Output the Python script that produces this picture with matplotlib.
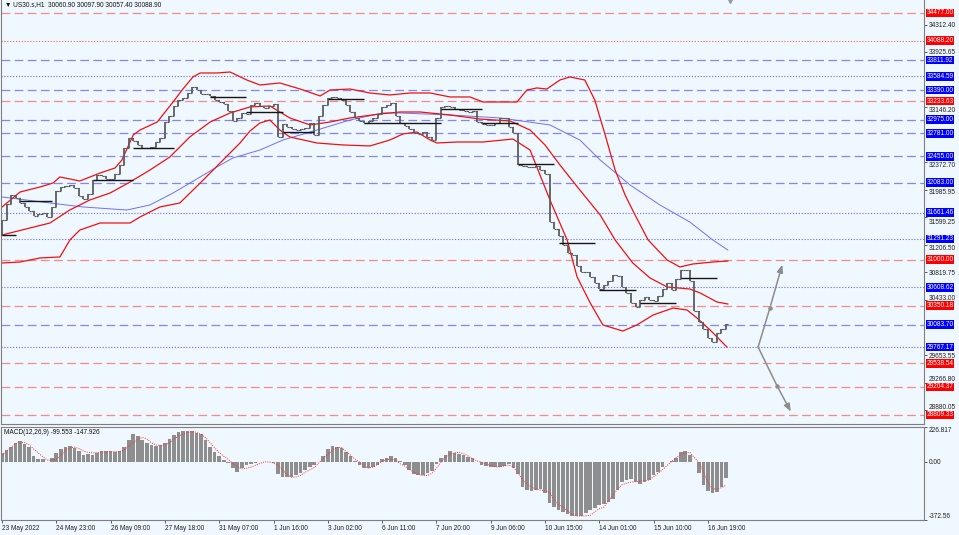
import matplotlib
matplotlib.use('Agg')
import matplotlib.pyplot as plt
import matplotlib.transforms as mtransforms
import numpy as np

# ---------------- data ----------------
symbol_header = "US30.s,H1  30060.90 30097.90 30057.40 30088.90"
macd_header = "MACD(12,26,9) -99.553 -147.926"

first_open = 31350
closes = [
    31558, 31790, 31905, 31870, 31795, 31745, 31685, 31620, 31645, 31650,
    31605, 31735, 31970, 32025, 32035, 32055, 32005, 31890, 31850, 31930,
    32120, 32190, 32185, 32140, 32135, 32210, 32330, 32580, 32720, 32670,
    32610, 32573, 32580, 32586, 32660, 32715, 32935, 33020, 33170, 33250,
    33280, 33350, 33435, 33395, 33330, 33330, 33300, 33250, 33215, 33190,
    33090, 32950, 32990, 33070, 33050, 33175, 33205, 33165, 33143, 33162,
    33195, 32729, 32910, 32870, 32835, 32832, 32845, 32862, 32925, 32760,
    33020, 33180, 33285, 33290, 33278, 33253, 33175, 33075, 32995, 32950,
    32930, 32960, 33000, 33050, 33152, 33178, 33205, 33030, 32930, 32880,
    32835, 32790, 32765, 32797, 32725, 32690, 32990, 33155, 33170, 33145,
    33120, 33111, 33095, 33087, 33090, 32940, 32905, 32898, 32900, 32920,
    33000, 32990, 32870, 32780, 32330, 32318, 32312, 32308, 32318, 32260,
    32207, 31530, 31425, 31330, 31210, 31090, 31060, 30905, 30820, 30820,
    30750, 30675, 30585, 30640, 30700, 30780, 30770, 30620, 30530, 30385,
    30330, 30430, 30466, 30430, 30410, 30480, 30585, 30665, 30571, 30720,
    30850, 30850, 30700, 30270, 30120, 30020, 29897, 29840, 29965, 30020,
    30089,
]

macd_hist = [
    60, 80, 100, 125, 139, 120, 95, 43, 20, 20,
    0, 25, 58, 82, 95, 107, 92, 70, 44, 52,
    44, 62, 75, 75, 71, 68, 72, 100, 142, 180,
    170, 145, 125, 110, 104, 108, 122, 147, 175, 196,
    204, 202, 198, 190, 180, 140, 100, 68, 38, 17,
    -5, -38, -60, -38, -20, -12, -2, 4, 2, 0,
    -4, -75, -97, -97, -95, -80, -72, -52, -33, -15,
    0, 40, 88, 102, 100, 90, 65, 40, 10, -18,
    -35, -40, -30, -18, 18, 30, 37, 30, 10, -20,
    -50, -76, -84, -80, -72, -55, -10, 25, 48, 69,
    62, 55, 46, 36, 25, 2, -15, -25, -32, -30,
    -28, -22, -13, -35, -75, -160, -178, -183, -180, -174,
    -200, -265, -290, -308, -320, -335, -344, -347, -345, -330,
    -311, -295, -278, -268, -255, -236, -180, -125, -112, -108,
    -130, -138, -125, -112, -85, -60, -30, 0, 8, 30,
    64, 75, 45, 0, -70, -150, -185, -200, -190, -160,
    -100,
]

macd_signal = [
    45, 70, 95, 118, 130, 126, 112, 85, 60, 35,
    14, 12, 20, 45, 75, 92, 97, 88, 72, 63,
    60, 62, 64, 66, 68, 68, 68, 80, 105, 128,
    148, 160, 150, 125, 112, 108, 110, 125, 150, 168,
    182, 192, 197, 192, 178, 158, 125, 92, 62, 38,
    18, -8, -30, -43, -40, -32, -20, -8, 2, 2,
    -5, -20, -50, -80, -97, -95, -85, -65, -50, -35,
    -5, 25, 50, 75, 95, 95, 70, 45, 20, 0,
    -25, -38, -32, -15, 5, 18, 21, 12, -10, -25,
    -45, -65, -78, -86, -86, -72, -40, 0, 35, 50,
    60, 64, 55, 40, 22, 8, 0, -12, -22, -30,
    -30, -25, -18, -30, -70, -110, -140, -160, -172, -180,
    -183, -195, -240, -275, -290, -315, -335, -347, -347, -345,
    -343, -320, -300, -290, -250, -210, -175, -145, -135, -129,
    -125, -122, -119, -115, -95, -70, -48, -21, 5, 30,
    48, 60, 64, 30, 0, -60, -130, -172, -172, -165,
    -148,
]

# Bollinger band lines and long MA (knots: bar index, price)
bb_upper_idx = [0, 4, 8.4, 11.3, 12.8, 17.2, 21.7, 25, 26.5, 29, 30.5, 34.3, 37.8, 39.8, 42.2, 43.8,
                47.5, 50.4, 54.1, 57, 61.4, 65.9, 70.3, 72.5, 76.9, 81.3, 85.7, 90.2, 94.6, 99,
                103.4, 106.3, 110.1, 113.8, 116, 118.2, 120.4, 123.3, 125.5, 128.8, 131, 133.3,
                135.5, 137.7, 139.9, 142.8, 147, 149.8, 152.7, 157.1, 160.4]
bb_upper = [31741, 31953, 32024, 32080, 32165, 32108, 32221, 32292, 32404, 32757, 32827, 32940,
            33222, 33391, 33575, 33631, 33631, 33645, 33532, 33462, 33490, 33405, 33307, 33391,
            33405, 33349, 33321, 33349, 33349, 33293, 33293, 33222, 33222, 33222, 33391, 33420,
            33405, 33532, 33575, 33532, 33250, 32757, 32263, 31911, 31629, 31276, 30994, 30896,
            30938, 30966, 30980]

bb_mid_idx = [0, 6.2, 10.6, 15, 19.4, 23.9, 28.3, 32.7, 37.1, 41.5, 46, 50.4, 54.8, 59.2, 63.6,
              68.1, 72.5, 76.9, 83.5, 88, 92.4, 99, 105.6, 112.3, 116.7, 120, 123.3, 127.7, 132.2,
              135.5, 139.4, 143.2, 147, 152, 154.3, 158, 160.4]
bb_mid = [31347, 31446, 31516, 31700, 31840, 31939, 32094, 32263, 32447, 32729, 32940, 33067,
          33152, 33166, 32997, 32898, 32940, 32997, 33053, 33081, 33081, 33039, 32982, 32954,
          32827, 32616, 32334, 31981, 31629, 31276, 30952, 30741, 30614, 30585, 30529, 30402,
          30374]

bb_lower_idx = [0, 4, 8.4, 12.8, 15, 17.2, 21.7, 28.3, 30.5, 34.9, 39.3, 43.8, 48.2, 52.6, 54.8,
                57, 59.2, 61.4, 63.6, 69.6, 75.4, 81.3, 85.7, 88.6, 91.7, 94.6, 96.1, 100.6,
                106.3, 112.9, 116.7, 121.1, 124.9, 127.1, 130, 132.8, 137.2, 140.3, 143.9, 148.3,
                151.4, 153.6, 156.5, 160.2]
bb_lower = [30952, 30966, 31023, 31037, 31276, 31417, 31516, 31516, 31601, 31742, 31798, 32080,
            32362, 32644, 32813, 32926, 32968, 32827, 32729, 32644, 32616, 32602, 32686, 32771,
            32799, 32686, 32644, 32658, 32658, 32700, 32545, 31840, 31276, 30755, 30388, 30078,
            29993, 30078, 30219, 30317, 30289, 30176, 30007, 29767]

ma_idx = [0, 10.6, 17.9, 27.6, 32.7, 37.8, 43.8, 47.5, 51, 57, 62.1, 69.6, 76.9, 84.2, 88, 99,
          110.1, 121.1, 127.7, 132.2, 138.8, 145.4, 152, 157.1, 160.4]
ma_long = [31883, 31798, 31742, 31699, 31770, 31939, 32165, 32306, 32432, 32545, 32686, 32827,
           32968, 33067, 33067, 33039, 32997, 32898, 32686, 32404, 32052, 31770, 31530, 31276,
           31135]

# daily horizontal segments (start bar, end bar, price)
seg_start = [0, 4, 20, 29, 46, 54, 62, 72, 80, 97, 106, 114, 123, 132, 141, 150]
seg_end = [3, 11, 29, 38, 54, 62, 69, 80, 97, 106, 114, 122, 131, 140, 149, 158]
seg_price = [31347, 31826, 32122, 32573, 33293, 33081, 32799, 33264, 32926, 33123, 32926,
             32348, 31234, 30571, 30388, 30740]

# horizontal levels
levels = [34477.00, 34088.20, 33811.92, 33584.59, 33390.00, 33233.63, 32975.00, 32781.00,
          32455.00, 32083.00, 31661.46, 31291.23, 31000.00, 30608.62, 30350.18, 30083.70,
          29767.17, 29538.54, 29204.37, 28809.33]
level_kind = ['sell', 'sell_dot', 'buy', 'buy_dot', 'buy', 'sell', 'buy', 'buy', 'buy', 'buy',
              'buy_dot', 'buy_dot', 'sell', 'buy_dot', 'sell', 'buy', 'buy_dot', 'sell', 'sell',
              'sell']

price_ticks = [34312.40, 33925.65, 33146.20, 32372.70, 31985.95, 31599.25, 31206.50, 30819.75,
               30433.00, 29653.55, 29266.80, 28880.05]
macd_ticks = [226.817, 0.0, -372.56]
macd_tick_labels = ['226.817', '0.00', '-372.56']

time_labels = ['23 May 2022', '24 May 23:00', '26 May 09:00', '27 May 18:00', '31 May 07:00',
               '1 Jun 16:00', '3 Jun 02:00', '6 Jun 11:00', '7 Jun 20:00', '9 Jun 06:00',
               '10 Jun 15:00', '14 Jun 01:00', '15 Jun 10:00', '16 Jun 19:00']
bars_per_label = 12

# projection arrows (bar index, price)
arrow_up_idx = [167.1, 169.7, 172.6]
arrow_up_price = [29767, 30318, 30966]
arrow_dn_idx = [167.1, 171.3, 174.6]
arrow_dn_price = [29767, 29218, 28823]
shift_marker_idx = 160.9

# ---------------- figure ----------------
W, H = 959, 535
BG = '#F0F8FF'
FONT = ['Liberation Sans', 'DejaVu Sans']
FS = 4.7
plt.rcParams['font.family'] = FONT

fig = plt.figure(figsize=(W / 100, H / 100), dpi=100, facecolor=BG)

left_px, right_px = 1, 924
main_h_px = 424
px_per_bar = 4.525
x0_px = 2
xlim = ((left_px - x0_px) / px_per_bar, (right_px - x0_px) / px_per_bar)

ax = fig.add_axes([left_px / W, 1 - main_h_px / H, (right_px - left_px) / W, main_h_px / H])
mx = fig.add_axes([left_px / W, 1 - 520 / H, (right_px - left_px) / W, 93 / H])

for a in (ax, mx):
    a.set_facecolor(BG)
    a.set_xlim(*xlim)
    for s in a.spines.values():
        s.set_color('#7f7f7f')
        s.set_linewidth(0.8)
ax.spines['top'].set_visible(False)

# price scale
ylo, yhi = 28682, 34660
ax.set_ylim(ylo, yhi)
ax.set_xticks([])
ax.yaxis.tick_right()
ax.set_yticks(price_ticks)
ax.set_yticklabels([f"{v:.2f}" for v in price_ticks], fontsize=FS, color='#202020')
ax.tick_params(axis='y', length=2, width=0.6, pad=1.5, color='#404040')

# nudge scale labels that sit right next to a level box away from it
price_per_px = (yhi - ylo) / main_h_px
for lab, tv in zip(ax.get_yticklabels(), price_ticks):
    diffs = [(tv - lv) / price_per_px for lv in levels]
    near = min(diffs, key=abs)
    if abs(near) < 8.5:
        shift_px = (8.5 - abs(near)) * (1 if near > 0 else -1)
        lab.set_transform(lab.get_transform() +
                          mtransforms.ScaledTranslation(0, shift_px / 100, fig.dpi_scale_trans))

# levels
style_map = {
    'sell': dict(color='#F58A8A', ls=(0, (7, 3.5)), lw=0.9),
    'sell_dot': dict(color='#F06060', ls=(0, (1, 1.6)), lw=0.8),
    'buy': dict(color='#8585F5', ls=(0, (7, 3.5)), lw=0.9),
    'buy_dot': dict(color='#6A6AF0', ls=(0, (1, 1.6)), lw=0.8),
}
box_map = {'sell': '#FF0000', 'sell_dot': '#FF0000', 'buy': '#0000FF', 'buy_dot': '#0000FF'}
trans = mtransforms.blended_transform_factory(ax.transAxes, ax.transData)
for lv, kd in zip(levels, level_kind):
    ax.axhline(lv, zorder=1, **style_map[kd])
    ax.text(1.0 + 2.5 / (right_px - left_px), lv, f"{lv:.2f}", transform=trans,
            ha='left', va='center', fontsize=FS, color='white', clip_on=False, zorder=10,
            bbox=dict(boxstyle='square,pad=0.12', fc=box_map[kd], ec='none'))

# bands and MA
ax.plot(ma_idx, ma_long, color='#7070F0', lw=0.7, zorder=2)
ax.plot(bb_upper_idx, bb_upper, color='#F01010', lw=0.9, zorder=2)
ax.plot(bb_mid_idx, bb_mid, color='#F01010', lw=0.9, zorder=2)
ax.plot(bb_lower_idx, bb_lower, color='#F01010', lw=0.9, zorder=2)

# price bars
idx = np.arange(len(closes))
c = np.array(closes, dtype=float)
o = np.concatenate([[first_open], c[:-1]])
lo = np.minimum(o, c)
hi = np.maximum(o, c)
bar_col = '#5c5c5c'
ax.vlines(idx, lo, hi, color=bar_col, lw=1.3, zorder=4)
ax.hlines(o, idx - 0.5, idx, color=bar_col, lw=0.8, zorder=4)
ax.hlines(c, idx, idx + 0.5, color=bar_col, lw=0.8, zorder=4)

# daily segments
ax.hlines(seg_price, seg_start, seg_end, color='#151515', lw=1.0, zorder=5)

# arrows
for xs, ys in ((arrow_up_idx, arrow_up_price), (arrow_dn_idx, arrow_dn_price)):
    ax.plot(xs[:-1], ys[:-1], color='#8c8c8c', lw=1.1, zorder=6)
    ax.plot(xs[1:2], ys[1:2], 'o', color='#8c8c8c', ms=2.2, zorder=6)
    ax.annotate('', xy=(xs[-1], ys[-1]), xytext=(xs[-2], ys[-2]),
                arrowprops=dict(arrowstyle='-|>,head_length=0.45,head_width=0.18',
                                color='#8c8c8c', lw=1.1), zorder=6)

# chart shift marker at the top
ax.plot([shift_marker_idx], [yhi], marker='v', color='#9a9a9a', ms=4, clip_on=False, zorder=7)

ax.text(4 / (right_px - left_px), 1 - 5 / main_h_px, '\u25BC ' + symbol_header,
        transform=ax.transAxes, ha='left', va='center', fontsize=FS, color='#101010',
        family=FONT)

# ---------------- MACD ----------------
mx.set_ylim(macd_ticks[-1], macd_ticks[0])
midx = np.arange(len(macd_hist))
mx.bar(midx, macd_hist, width=0.8, color='#8e8e8e', edgecolor='none', zorder=2)
mx.plot(midx, macd_signal, color='#FF3030', lw=0.7, ls=(0, (1, 1.3)), zorder=3)
mx.yaxis.tick_right()
mx.set_yticks(macd_ticks)
mx.set_yticklabels(macd_tick_labels, fontsize=FS, color='#202020')
mx.tick_params(axis='y', length=2, width=0.6, pad=1.5, color='#404040')
for lab, va in zip(mx.get_yticklabels(), ['top', 'center', 'bottom']):
    lab.set_va(va)
mx.text(3 / (right_px - left_px), 1 - 5 / 93, macd_header, transform=mx.transAxes,
        ha='left', va='center', fontsize=FS, color='#101010')

tick_pos = np.arange(len(time_labels)) * bars_per_label
mx.set_xticks(tick_pos)
mx.set_xticklabels(time_labels, fontsize=FS, color='#202020', ha='left')
mx.tick_params(axis='x', length=2, width=0.6, pad=1.5, color='#404040')

fig.savefig('out.png', dpi=100, facecolor=BG)
